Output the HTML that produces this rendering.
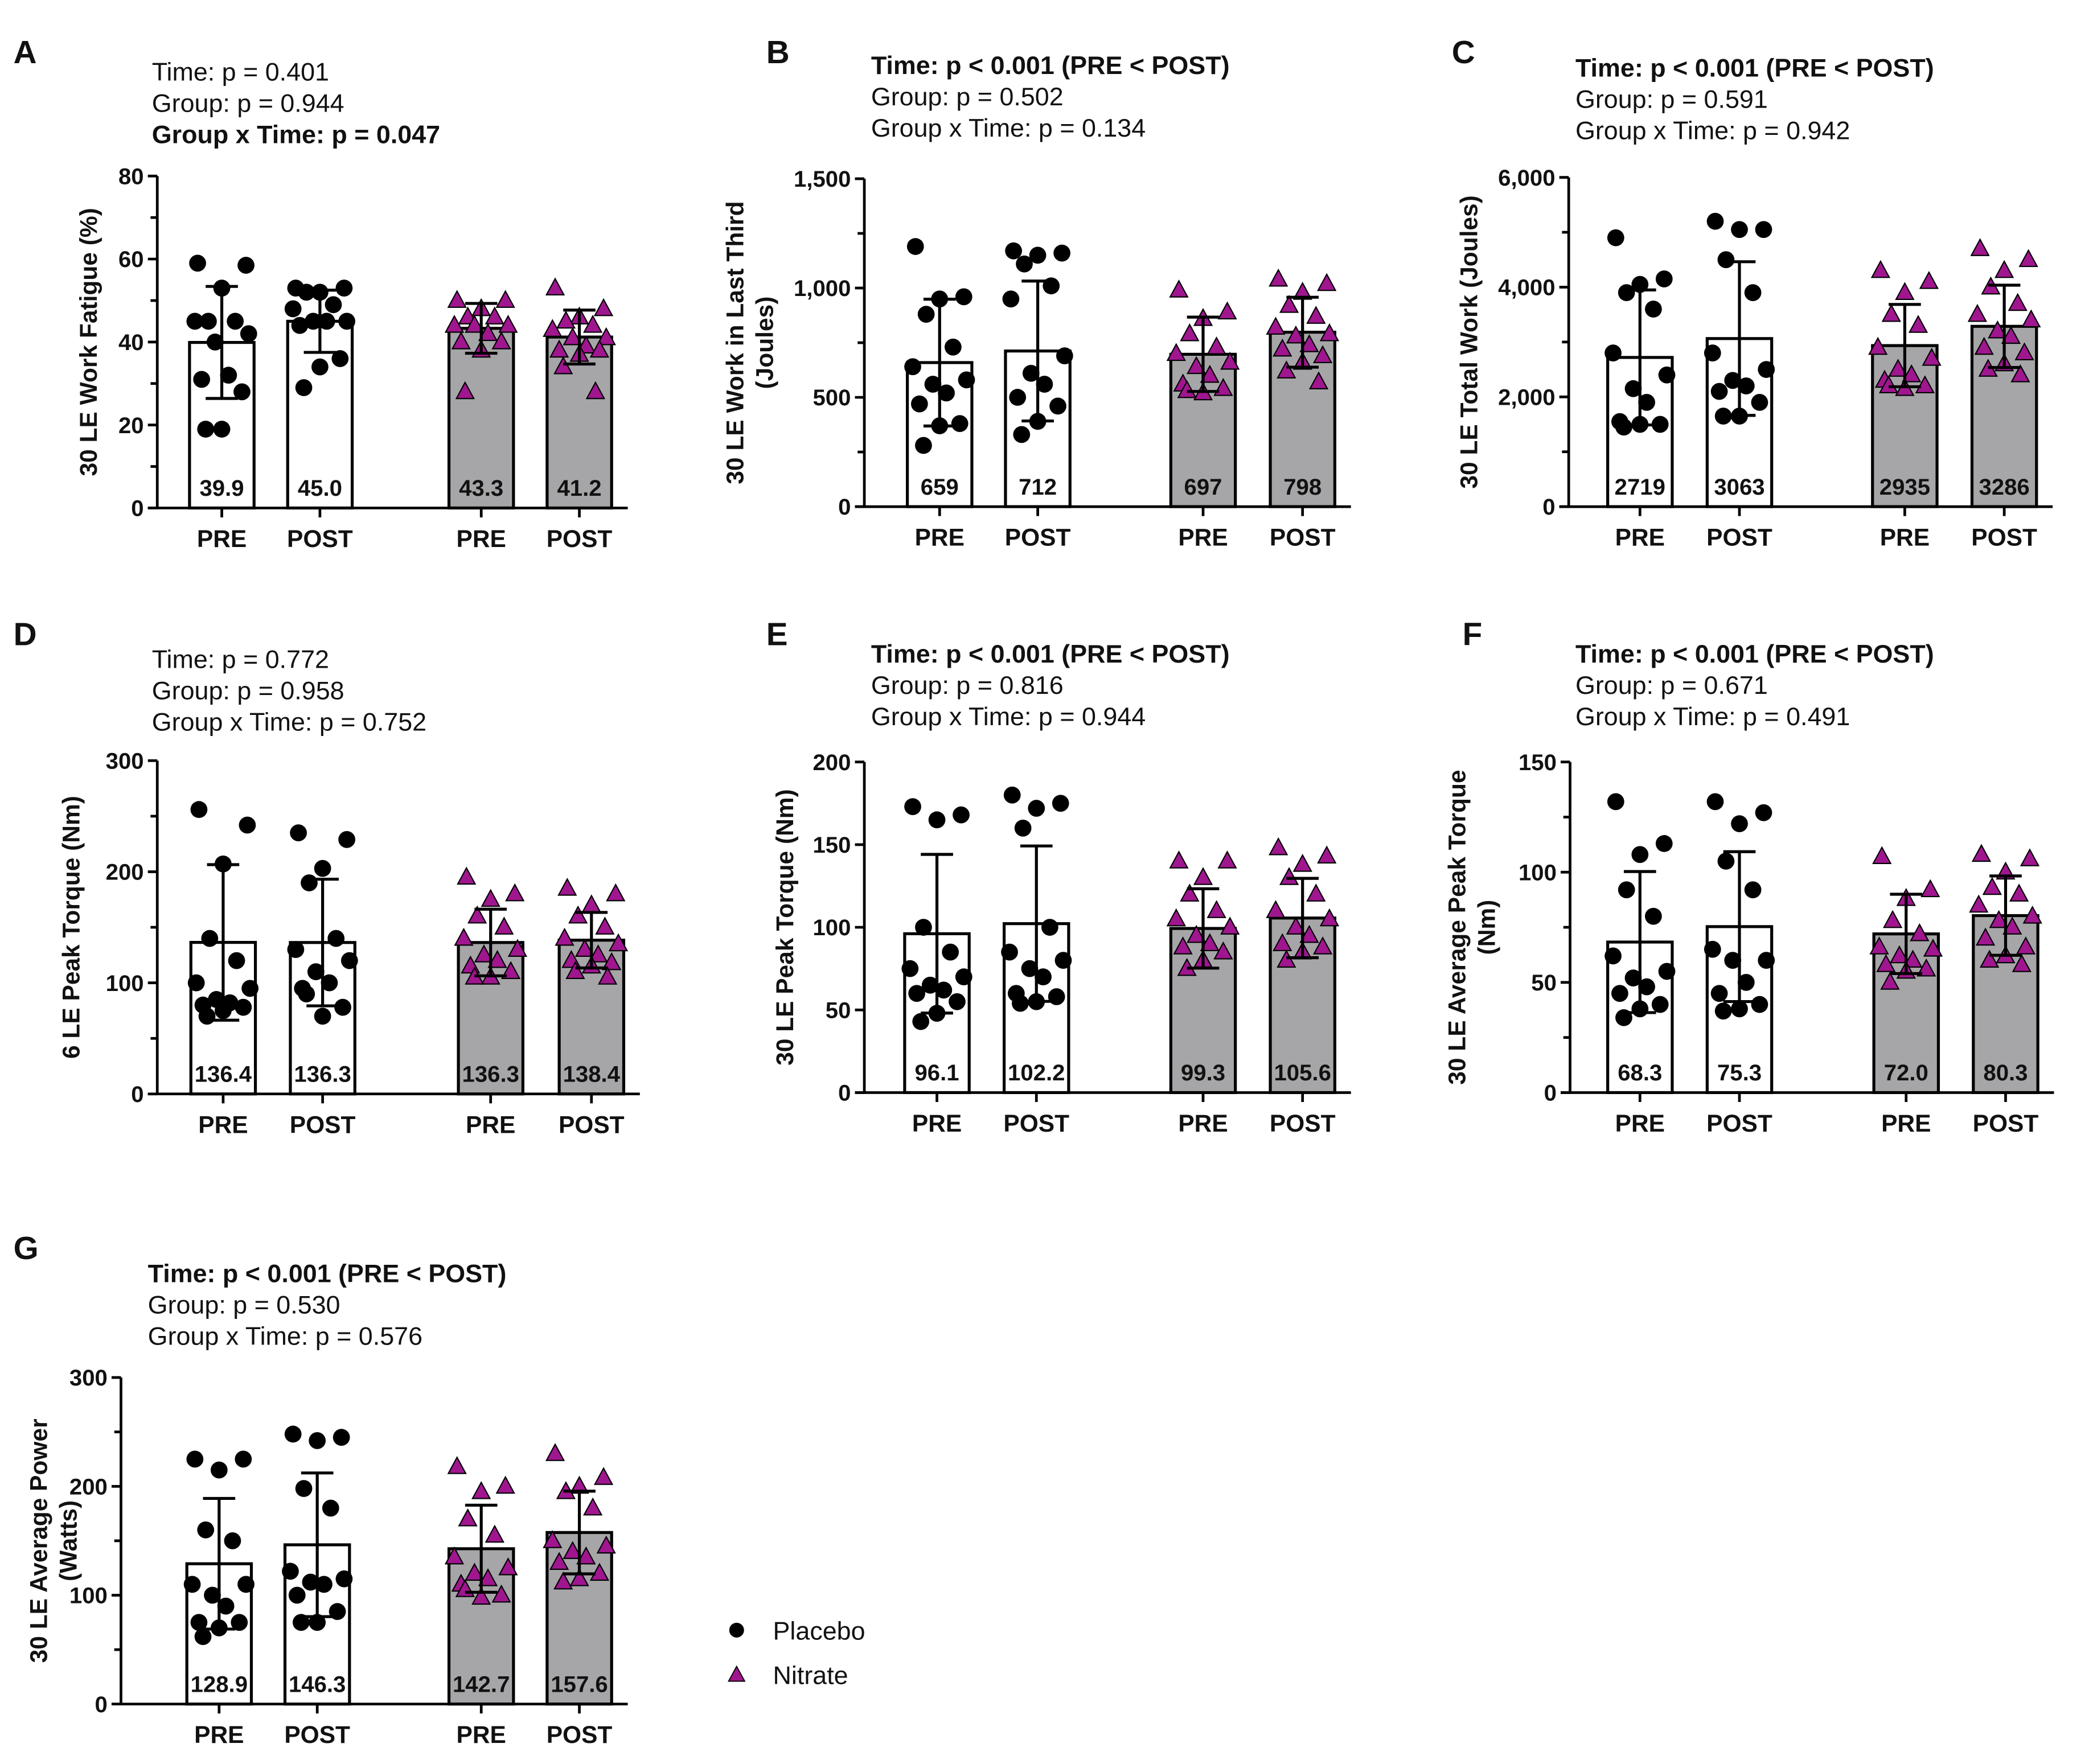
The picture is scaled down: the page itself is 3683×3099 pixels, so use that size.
<!DOCTYPE html>
<html><head><meta charset="utf-8">
<style>
html,body{margin:0;padding:0;background:#fff;}
svg{display:block;}
text{font-family:"Liberation Sans Narrow","Liberation Sans",sans-serif;fill:#111;}
.b{font-weight:bold;}
.w{font-family:"Liberation Sans",sans-serif;}
</style></head>
<body>
<svg id="fig" xmlns="http://www.w3.org/2000/svg" width="3683" height="3099" viewBox="0 0 1560 1312.6" preserveAspectRatio="none"></svg>
<script>
// ---- Data arrays ----
const categories = ["PRE","POST","PRE","POST"];
const groups = ["placebo","placebo","nitrate","nitrate"];
const legendLabels = ["Placebo","Nitrate"];

const aMeans=[39.9,45.0,43.3,41.2], aSD=[13.5,7.5,6,6.5];
const aPts=[[59,58.5,53,45,45,45,42,40,32,31,28,19,19],[53,53,52,52,49,48,45,45,45,44,36,34,29],[50,50,48,46,46,44,44,44,42,40,40,38,28],[53,48,46,45,44,43,41,41,39,38,38,37,34,28]];
const aTicks=[0,20,40,60,80];
const bMeans=[659,712,697,798], bSD=[290,320,170,160];
const bPts=[[1190,960,950,880,730,640,580,560,520,470,380,370,280],[1170,1160,1150,1110,1010,950,690,610,560,500,460,390,330],[990,890,860,790,730,700,660,640,600,560,540,520,530],[1040,1020,980,920,870,820,790,780,740,720,690,660,620,570]];
const bTicks=[0,500,1000,1500];
const cMeans=[2719,3063,2935,3286], cSD=[1230,1400,750,750];
const cPts=[[4900,4150,4050,3900,3600,2800,2400,2150,1900,1550,1500,1500,1450],[5200,5050,5050,4500,3900,2800,2500,2300,2200,2100,1900,1650,1650],[4300,4100,3900,3500,3300,2900,2700,2500,2400,2300,2200,2150,2200],[4700,4500,4300,4000,3700,3500,3400,3200,3100,2900,2800,2600,2500,2400]];
const cTicks=[0,2000,4000,6000];
const dMeans=[136.4,136.3,136.3,138.4], dSD=[70,57,30,25];
const dPts=[[256,242,207,140,120,100,95,85,82,80,78,75,70],[235,229,203,190,140,130,120,110,100,95,78,70,90],[195,180,175,160,150,140,130,125,120,115,110,105,105],[185,180,170,160,150,140,135,130,125,120,118,115,110,105]];
const dTicks=[0,100,200,300];
const eMeans=[96.1,102.2,99.3,105.6], eSD=[48,47,24,24];
const ePts=[[173,168,165,100,85,75,70,65,62,60,55,48,43],[180,175,172,160,100,85,80,75,70,60,58,55,54],[140,140,130,120,110,105,100,95,90,88,85,80,75],[148,143,138,130,120,110,105,100,95,90,88,85,80]];
const eTicks=[0,50,100,150,200];
const fMeans=[68.3,75.3,72.0,80.3], fSD=[32,34,18,18];
const fPts=[[132,113,108,92,80,62,55,52,48,45,40,38,34],[132,127,122,105,92,65,60,60,50,45,40,38,37],[107,92,88,78,72,66,65,62,60,58,56,55,50],[108,106,100,93,90,85,80,78,75,70,66,62,60,58]];
const fTicks=[0,50,100,150];
const gMeans=[128.9,146.3,142.7,157.6], gSD=[60,66,40,38];
const gPts=[[225,225,215,160,150,110,110,100,90,75,75,70,62],[248,245,242,198,180,122,115,112,110,100,85,75,75],[218,200,195,170,155,135,125,120,115,110,100,98,105],[230,208,200,195,180,150,145,140,135,130,120,115,112]];
const gTicks=[0,100,200,300];

const svg=document.getElementById('fig');
const NS='http://www.w3.org/2000/svg';
function el(tag,attrs,parent){const e=document.createElementNS(NS,tag);for(const k in attrs)e.setAttribute(k,attrs[k]);(parent||svg).appendChild(e);return e;}
function fmt(v){return v>=1000?v.toLocaleString('en-US'):String(v);}
const jit=[-18,18,0,-10,10,-20,20,-5,5,-15,15,0,-12,12];

function panel(cfg){
  const g=el('g',{});
  
  
  const L=el('text',{x:cfg.lx,y:cfg.ly,'font-size':24,class:'b w'},g);L.textContent=cfg.letter;
  
  
  cfg.stats.forEach((s,i)=>{const t=el('text',{x:cfg.sx,y:cfg.sy+i*23.3,'font-size':19,class:s[1]?'b':''},g);t.textContent=s[0];
    
    });
  const x0=cfg.ax, y0=cfg.y0, yT=cfg.yTop, max=cfg.ticks[cfg.ticks.length-1];
  const ys=v=>y0-(v/max)*(y0-yT);
  const bx=i=>cfg.bars[i];
  const bw=48;
  // bars
  cfg.means.forEach((m,i)=>{
    const r=el('rect',{x:bx(i)-bw/2,y:ys(m),width:bw,height:y0-ys(m),fill:groups[i]==='nitrate'?'#a6a6a8':'#fff',stroke:'#000','stroke-width':2.2},g);
    
    
  });
  // points
  cfg.pts.forEach((arr,i)=>{
    arr.forEach((v,k)=>{
      const cx=bx(i)+jit[k%jit.length], cy=ys(v);
      let p;
      if(groups[i]==='placebo') p=el('circle',{cx:cx,cy:cy,r:6.3,fill:'#000'},g);
      else p=el('polygon',{points:`${cx},${cy-7} ${cx-6.5},${cy+5} ${cx+6.5},${cy+5}`,fill:'#a0168f',stroke:'#000','stroke-width':0.9},g);
      
      
    });
  });
  // error bars
  cfg.means.forEach((m,i)=>{
    const s=cfg.sd[i], c=bx(i);
    const e=el('path',{d:`M${c},${ys(m+s)}V${ys(m-s)}M${c-12},${ys(m+s)}H${c+12}M${c-12},${ys(m-s)}H${c+12}`,stroke:'#000','stroke-width':2.2,fill:'none'},g);
    
    
    const t=el('text',{x:c,y:y0-9,'font-size':17,'text-anchor':'middle',class:'b'},g);t.textContent=fmt(m.toFixed(cfg.dec)*1===m?m.toFixed(cfg.dec):m);
    if(cfg.dec===0)t.textContent=String(m);
    
    
  });
  // axes
  const xEnd=bx(3)+bw/2+12;
  const ax=el('path',{d:`M${x0},${yT}V${y0}M${x0-7},${y0}H${xEnd}`,stroke:'#000','stroke-width':2,fill:'none'},g);
  
  
  const tk=cfg.ticks, step=tk[1]-tk[0];
  for(let i=0;i<tk.length;i++){
    el('line',{x1:x0-7,x2:x0,y1:ys(tk[i]),y2:ys(tk[i]),stroke:'#000','stroke-width':2},g);
    const t=el('text',{x:x0-10,y:ys(tk[i])+6,'font-size':17,'text-anchor':'end',class:'b'},g);t.textContent=fmt(tk[i]);
    
    
    if(cfg.minor&&i<tk.length-1){const mv=tk[i]+step/2;el('line',{x1:x0-5,x2:x0,y1:ys(mv),y2:ys(mv),stroke:'#000','stroke-width':2},g);}
  }
  categories.forEach((c,i)=>{
    el('line',{x1:bx(i),x2:bx(i),y1:y0,y2:y0+7,stroke:'#000','stroke-width':2},g);
    const t=el('text',{x:bx(i),y:y0+29,'font-size':18,'text-anchor':'middle',class:'b w'},g);t.textContent=c;
    
    
  });
  // y title
  const cy=(y0+yT)/2;
  cfg.title.forEach((s,i)=>{
    const tx=cfg.tx+i*22;
    const t=el('text',{x:tx,y:cy,'font-size':18,'text-anchor':'middle',class:'b w',transform:`rotate(-90 ${tx} ${cy})`},g);t.textContent=s;
    
    
  });
}

panel({letter:'A',lx:10,ly:47,sx:113,sy:60,stats:[['Time: p = 0.401',0],['Group: p = 0.944',0],['Group x Time: p = 0.047',1]],
  ax:117,y0:378,yTop:131,bars:[165,238,358,431],means:aMeans,sd:aSD,pts:aPts,ticks:aTicks,minor:true,dec:1,title:['30 LE Work Fatigue (%)'],tx:72});
panel({letter:'B',lx:570,ly:47,sx:648,sy:55,stats:[['Time: p < 0.001  (PRE <  POST)',1],['Group: p = 0.502',0],['Group x Time: p = 0.134',0]],
  ax:643,y0:377,yTop:133,bars:[699,772,895,969],means:bMeans,sd:bSD,pts:bPts,ticks:bTicks,minor:true,dec:0,title:['30 LE Work in Last Third','(Joules)'],tx:553});
panel({letter:'C',lx:1080,ly:47,sx:1172,sy:57,stats:[['Time: p < 0.001 (PRE <  POST)',1],['Group: p = 0.591',0],['Group x Time: p = 0.942',0]],
  ax:1167,y0:377,yTop:132,bars:[1220,1294,1417,1491],means:cMeans,sd:cSD,pts:cPts,ticks:cTicks,minor:true,dec:0,title:['30 LE Total Work (Joules)'],tx:1099});
panel({letter:'D',lx:10,ly:480,sx:113,sy:497,stats:[['Time: p = 0.772',0],['Group: p = 0.958',0],['Group x Time: p = 0.752',0]],
  ax:117,y0:814,yTop:566,bars:[166,240,365,440],means:dMeans,sd:dSD,pts:dPts,ticks:dTicks,minor:true,dec:1,title:['6 LE Peak Torque (Nm)'],tx:59});
panel({letter:'E',lx:570,ly:480,sx:648,sy:493,stats:[['Time: p < 0.001  (PRE < POST)',1],['Group: p = 0.816',0],['Group x Time: p = 0.944',0]],
  ax:643,y0:813,yTop:567,bars:[697,771,895,969],means:eMeans,sd:eSD,pts:ePts,ticks:eTicks,minor:false,dec:1,title:['30 LE Peak Torque (Nm)'],tx:590});
panel({letter:'F',lx:1088,ly:480,sx:1172,sy:493,stats:[['Time: p < 0.001  (PRE  <  POST)',1],['Group: p = 0.671',0],['Group x Time: p = 0.491',0]],
  ax:1168,y0:813,yTop:567,bars:[1220,1294,1418,1492],means:fMeans,sd:fSD,pts:fPts,ticks:fTicks,minor:true,dec:1,title:['30 LE Average Peak Torque','(Nm)'],tx:1090});
panel({letter:'G',lx:10,ly:937,sx:110,sy:954,stats:[['Time: p < 0.001 (PRE < POST)',1],['Group: p = 0.530',0],['Group x Time: p = 0.576',0]],
  ax:90,y0:1268,yTop:1025,bars:[163,236,358,431],means:gMeans,sd:gSD,pts:gPts,ticks:gTicks,minor:true,dec:1,title:['30 LE Average  Power','(Watts)'],tx:35});

// legend
const lg=el('g',{});


const lc=el('circle',{cx:548,cy:1213,r:5.5,fill:'#000'},lg);


const lp=el('polygon',{points:'548,1240 542,1251 554,1251',fill:'#a0168f',stroke:'#000','stroke-width':0.8},lg);


legendLabels.forEach((s,i)=>{const t=el('text',{x:575,y:1220+i*33,'font-size':19},lg);t.textContent=s;
  
  });
</script>
</body></html>
